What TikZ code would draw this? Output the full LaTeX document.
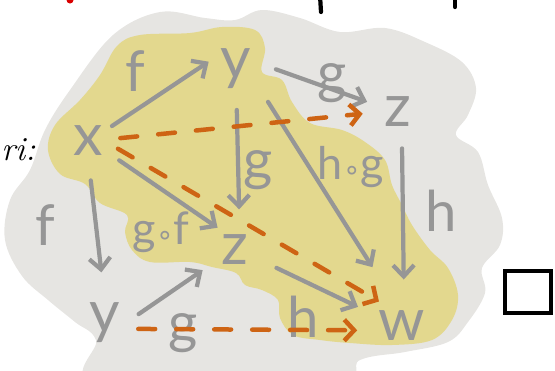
\documentclass[tikz,border=0pt]{standalone}
\usepackage{fontspec}
\setsansfont{Lato}
\newfontfamily\symfont{DejaVu Sans}
\usetikzlibrary{arrows.meta}
\definecolor{BlobGray}{RGB}{230,229,226}
\definecolor{BlobYellow}{RGB}{227,216,142}
\definecolor{InkGray}{RGB}{150,150,150}
\definecolor{InkOrange}{RGB}{206,100,20}

\begin{document}
\begin{tikzpicture}[
    x=0.025cm, y=-0.025cm,
    obj/.style={circle, inner sep=0pt, minimum size=1.4cm, text=InkGray,
                font=\sffamily\fontsize{42}{42}\selectfont},
    lbl/.style={inner sep=0pt, text=InkGray, font=\sffamily\fontsize{40}{40}\selectfont},
    cmp/.style={inner sep=0pt, text=InkGray, font=\sffamily\fontsize{32}{32}\selectfont},
    arr/.style={draw=InkGray, line width=3pt, line cap=round, line join=round,
                -{Straight Barb[length=8pt, width=15pt, line width=3pt]}},
    darr/.style={draw=InkOrange, line width=3.2pt, line cap=round,
                 dash pattern=on 12pt off 15pt,
                 -{Straight Barb[length=7pt, width=15pt, line width=3.2pt]}}
]
    \useasboundingbox (0,0) rectangle (555,370);
    \fill[BlobGray] plot[smooth cycle, tension=0.6] coordinates {
        (113,35) (160,12) (205,18) (235,20) (262,10) (300,18) (340,32) (385,28)
        (425,42) (462,62) (476,88) (468,115) (456,135) (478,152) (488,185)
        (502,218) (500,245) (482,268) (485,293) (468,322) (448,342) (405,352)
        (360,360) (330,385) (100,385) (96,340) (75,322) (48,300) (22,276)
        (5,240) (10,200) (30,170) (45,130) (70,90)};
    \fill[BlobYellow] plot[smooth cycle, tension=0.6] coordinates {
        (117,46) (140,35) (190,33) (222,27) (255,30) (265,48) (262,72) (282,80)
        (292,102) (310,123) (342,130) (365,142) (385,160) (392,185) (402,205)
        (412,225) (430,250) (448,268) (458,295) (452,320) (432,340) (392,345)
        (350,343) (320,340) (293,335) (280,318) (278,300) (262,290) (245,285)
        (236,273) (212,267) (190,262) (150,262) (132,250) (125,232) (127,215)
        (100,203) (85,184) (60,174) (48,150) (55,125) (80,100) (100,75)};

    \node[obj] (nx) at (88,141) {x};
    \node[obj] (nyt) at (236,69) {y};
    \node[obj] (nzt) at (398,112) {z};
    \node[obj] (nzm) at (235,250) {z};
    \node[obj] (nyb) at (105,323) {y};
    \node[obj] (nw) at (402,326) {w};

    \node[lbl] (lf1) at (135,71) {f};
    \node[lbl] (lg1) at (332,83) {g};
    \node[lbl] (lg2) at (258,170) {g};
    \node[cmp] (lhg) at (351,167) {h{\symfont\fontsize{20}{20}\selectfont∘}g};
    \node[lbl] (lh1) at (441,211) {h};
    \node[lbl] (lf2) at (45,225) {f};
    \node[cmp] (lgf) at (161,232) {g{\symfont\fontsize{20}{20}\selectfont∘}f};
    \node[lbl] (lg3) at (183,333) {g};
    \node[lbl] (lh2) at (303,317) {h};

    \draw[arr] (nx.32) -- (nyt.165);
    \draw[arr, shorten <=9pt, shorten >=3pt] (nyt.8) -- (nzt.162);
    \draw[arr, shorten <=9pt, shorten >=9pt] (nyt.-89) -- (nzm.81);
    \draw[arr, shorten <=13pt, shorten >=27pt] (nyt.-38) -- (nw.109);
    \draw[arr, shorten <=6pt, shorten >=13pt] (nzt.-82) -- (nw.86);
    \draw[arr, shorten <=6pt] (nx.-31) -- (nzm.128);
    \draw[arr, shorten <=8pt, shorten >=16pt] (nx.-87) -- (nyb.92);
    \draw[arr, shorten <=5pt, shorten >=7pt] (nyb.10) -- (nzm.-149);
    \draw[arr, shorten <=12pt, shorten >=14pt] (nzm.-22) -- (nw.158);

    \draw[darr, shorten <=3pt, shorten >=5pt] (nx.5) -- (nzt.182);
    \draw[darr, shorten <=2pt, shorten >=4pt] (nx.-13) -- (nw.130);
    \draw[darr, shorten <=4pt, shorten >=12pt] (nyb.-12) -- (nw.-171);

    \node[draw, line width=2.8pt, minimum width=1.15cm, minimum height=1.05cm]
        (qed) at (528,292) {};
    \node[anchor=west, inner sep=0pt, font=\itshape\fontsize{24}{24}\selectfont]
        (frag) at (1,150) {ri:};
    \fill[red!85!black] (70,0) circle (3.5);
    \draw[line width=3pt, line cap=round] (320,-5) -- (321,12);
    \draw[line width=3pt, line cap=round] (455,-5) -- (455,7);
\end{tikzpicture}
\end{document}
